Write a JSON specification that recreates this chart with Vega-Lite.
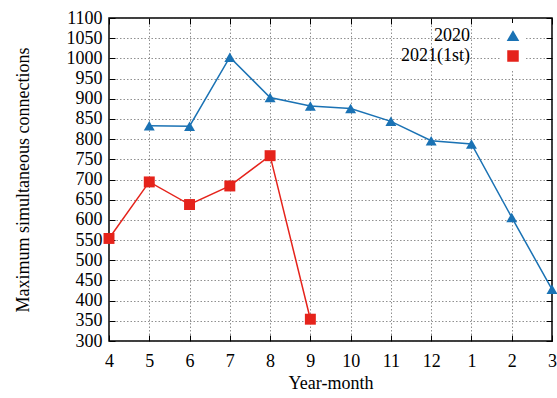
{
  "$schema": "https://vega.github.io/schema/vega-lite/v6.json",
  "width": 443,
  "height": 323,
  "autosize": {"type": "none"},
  "padding": {"left": 109, "top": 18, "right": 5, "bottom": 57},
  "config": {
    "font": "Liberation Serif",
    "view": {"stroke": "black", "strokeWidth": 1.5},
    "axis": {
      "labelFont": "Liberation Serif",
      "labelFontSize": 18,
      "labelColor": "black",
      "titleFont": "Liberation Serif",
      "titleFontSize": 18,
      "titleFontWeight": "normal",
      "titleColor": "black",
      "domain": false,
      "tickColor": "black",
      "tickWidth": 1,
      "tickSize": -6,
      "grid": true,
      "gridColor": "#444444",
      "gridDash": [1.5, 2],
      "gridWidth": 0.6
    }
  },
  "data": {
    "values": [
      {"month": "5", "series": "2020", "value": 833},
      {"month": "6", "series": "2020", "value": 832},
      {"month": "7", "series": "2020", "value": 1003},
      {"month": "8", "series": "2020", "value": 903},
      {"month": "9", "series": "2020", "value": 882},
      {"month": "10", "series": "2020", "value": 876},
      {"month": "11", "series": "2020", "value": 844},
      {"month": "12", "series": "2020", "value": 796},
      {"month": "1", "series": "2020", "value": 788},
      {"month": "2", "series": "2020", "value": 606},
      {"month": "3", "series": "2020", "value": 428},
      {"month": "4", "series": "2021(1st)", "value": 554},
      {"month": "5", "series": "2021(1st)", "value": 694},
      {"month": "6", "series": "2021(1st)", "value": 638},
      {"month": "7", "series": "2021(1st)", "value": 684},
      {"month": "8", "series": "2021(1st)", "value": 759},
      {"month": "9", "series": "2021(1st)", "value": 354}
    ]
  },
  "layer": [
    {
      "mark": {"type": "line", "strokeWidth": 1.5},
      "encoding": {
        "x": {
          "field": "month",
          "type": "ordinal",
          "sort": ["4", "5", "6", "7", "8", "9", "10", "11", "12", "1", "2", "3"],
          "scale": {"type": "point", "padding": 0},
          "axis": {"title": "Year-month", "labelAngle": 0, "labelPadding": 17, "titlePadding": 4}
        },
        "y": {
          "field": "value",
          "type": "quantitative",
          "scale": {"domain": [300, 1100], "nice": false, "zero": false},
          "axis": {
            "title": "Maximum simultaneous connections",
            "format": "d",
            "values": [300, 350, 400, 450, 500, 550, 600, 650, 700, 750, 800, 850, 900, 950, 1000, 1050, 1100],
            "labelPadding": 13,
            "titlePadding": 34
          }
        },
        "color": {
          "field": "series",
          "type": "nominal",
          "scale": {"domain": ["2020", "2021(1st)"], "range": ["#1a72b4", "#e5231b"]},
          "legend": {
            "orient": "none",
            "legendX": 391,
            "legendY": 5,
            "title": null,
            "labelAlign": "right",
            "labelOffset": -52,
            "labelFont": "Liberation Serif",
            "labelFontSize": 18,
            "labelColor": "black",
            "symbolSize": 100,
            "symbolStrokeWidth": 1.5,
            "rowPadding": 2,
            "padding": 4,
            "fillColor": "white"
          }
        }
      }
    },
    {
      "mark": {"type": "point", "filled": true, "opacity": 1, "size": 120},
      "encoding": {
        "x": {
          "field": "month",
          "type": "ordinal",
          "sort": ["4", "5", "6", "7", "8", "9", "10", "11", "12", "1", "2", "3"],
          "scale": {"type": "point", "padding": 0},
          "axis": {"orient": "top", "labels": false, "title": null, "grid": false}
        },
        "y": {
          "field": "value",
          "type": "quantitative",
          "scale": {"domain": [300, 1100], "nice": false, "zero": false},
          "axis": {
            "orient": "right",
            "labels": false,
            "title": null,
            "grid": false,
            "values": [300, 350, 400, 450, 500, 550, 600, 650, 700, 750, 800, 850, 900, 950, 1000, 1050, 1100]
          }
        },
        "color": {"field": "series", "type": "nominal"},
        "shape": {
          "field": "series",
          "type": "nominal",
          "scale": {"domain": ["2020", "2021(1st)"], "range": ["triangle-up", "square"]},
          "legend": null
        }
      }
    }
  ],
  "resolve": {"axis": {"x": "independent", "y": "independent"}}
}
